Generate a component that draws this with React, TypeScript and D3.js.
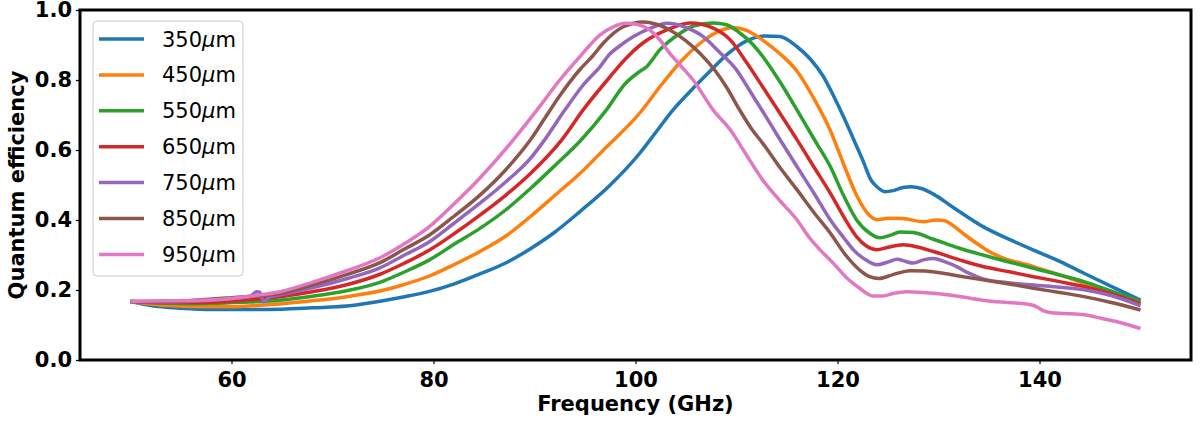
import { useEffect, useRef } from 'react';
import * as d3 from 'd3';

type Pt = [number, number];

// quantum efficiency vs frequency
const qe350: Pt[] = [
  [50, 0.167], [52, 0.156], [55, 0.148], [58, 0.144], [62, 0.144], [65, 0.145], [68, 0.149],
  [71.4, 0.154], [74.7, 0.168], [77, 0.18], [79.6, 0.196], [82, 0.217], [84.6, 0.246],
  [87.2, 0.278], [89.6, 0.318], [92, 0.365], [94.5, 0.424], [97.5, 0.5], [100.4, 0.59],
  [102, 0.65], [103.7, 0.714], [105.5, 0.77], [107, 0.814], [109.4, 0.881], [111, 0.912],
  [112.8, 0.926], [114.3, 0.924], [116, 0.895], [117.3, 0.86], [118.6, 0.81], [119.6, 0.755],
  [120.6, 0.695], [121.6, 0.63], [122.5, 0.571], [123.3, 0.515], [123.9, 0.495], [124.7, 0.481],
  [125.5, 0.484], [126.5, 0.493], [127.3, 0.495], [128.3, 0.49], [129.5, 0.474], [131.5, 0.435],
  [134.4, 0.381], [136.9, 0.346], [139.4, 0.314], [142, 0.282], [144.4, 0.248], [147, 0.212],
  [150, 0.171],
];

const qe450: Pt[] = [
  [50, 0.167], [53, 0.157], [56, 0.153], [59, 0.152], [62, 0.155], [64.8, 0.16], [68, 0.169],
  [71.4, 0.181], [74.7, 0.197], [77, 0.215], [79.6, 0.24], [82, 0.272], [84.6, 0.31],
  [87.2, 0.355], [89.6, 0.41], [92, 0.47], [94.5, 0.533], [97, 0.605], [100.4, 0.705],
  [102.4, 0.78], [104.4, 0.85], [106.4, 0.905], [108.4, 0.941], [109.7, 0.95], [111, 0.942],
  [112.6, 0.914], [114.3, 0.875], [116, 0.825], [117.7, 0.745], [119.3, 0.655], [120.6, 0.56],
  [121.9, 0.47], [123.2, 0.412], [123.9, 0.401], [125, 0.405], [126.5, 0.404], [128.5, 0.395],
  [129.8, 0.4], [130.6, 0.398], [131.5, 0.383], [132.5, 0.36], [133.8, 0.333], [135, 0.31],
  [136.1, 0.295], [139.4, 0.267], [142, 0.243], [144.4, 0.219], [147, 0.195], [150, 0.167],
];

const qe550: Pt[] = [
  [50, 0.167], [53, 0.163], [56, 0.161], [58.2, 0.162], [61, 0.165], [64.8, 0.171], [68, 0.182],
  [71.4, 0.198], [74.7, 0.222], [77, 0.25], [79.6, 0.286], [82, 0.33], [84.6, 0.376],
  [87.2, 0.43], [89.6, 0.49], [92, 0.555], [94.5, 0.625], [97.1, 0.714], [99, 0.79],
  [100.4, 0.824], [101.1, 0.838], [102.4, 0.886], [104.4, 0.933], [105.8, 0.955], [107.7, 0.963],
  [109, 0.958], [110.3, 0.935], [111.5, 0.905], [112.6, 0.867], [114.3, 0.795], [116, 0.714],
  [117.7, 0.63], [119.3, 0.552], [120.6, 0.47], [121.9, 0.4], [123.2, 0.362], [124.2, 0.349],
  [125.2, 0.356], [126.2, 0.366], [127.5, 0.364], [129.5, 0.345], [132, 0.32], [134.4, 0.3],
  [137, 0.28], [139.4, 0.262], [142, 0.243], [144.4, 0.224], [147, 0.198], [150, 0.167],
];

const qe650: Pt[] = [
  [50, 0.167], [53, 0.164], [56, 0.164], [60, 0.168], [64.8, 0.181], [68, 0.195], [71.4, 0.215],
  [74.7, 0.245], [77, 0.275], [79.6, 0.314], [82, 0.36], [84.6, 0.414], [87.2, 0.472],
  [89.6, 0.533], [92.7, 0.629], [94.8, 0.714], [97.5, 0.81], [99, 0.86], [100.7, 0.905],
  [103.1, 0.943], [105.4, 0.963], [107.7, 0.948], [109.4, 0.914], [111, 0.85], [112.6, 0.78],
  [114.3, 0.705], [116, 0.629], [117.7, 0.55], [119.3, 0.476], [120.6, 0.41], [121.9, 0.352],
  [122.9, 0.325], [123.9, 0.315], [125, 0.322], [126.5, 0.329], [128, 0.322], [129.5, 0.31],
  [132, 0.287], [134.4, 0.267], [137, 0.252], [139.4, 0.238], [142, 0.224], [144.4, 0.21],
  [147, 0.19], [150, 0.16],
];

const qe750: Pt[] = [
  [50, 0.167], [53, 0.166], [56, 0.168], [59, 0.173], [61.8, 0.181], [62.5, 0.195], [62.8, 0.193],
  [63.2, 0.166], [63.7, 0.18], [64.8, 0.186], [68, 0.206], [71.4, 0.232], [74.7, 0.263],
  [77, 0.298], [79.6, 0.338], [82, 0.39], [84.6, 0.448], [87.2, 0.51], [89.6, 0.576],
  [91, 0.629], [93, 0.714], [94.8, 0.785], [96.5, 0.838], [97.5, 0.876], [98.1, 0.89],
  [99.8, 0.924], [101.5, 0.948], [103.1, 0.962], [105, 0.95], [106.7, 0.924], [108.3, 0.88],
  [110, 0.829], [111.3, 0.77], [112.6, 0.71], [114.3, 0.63], [116, 0.552], [117.7, 0.475],
  [119.3, 0.4], [120.6, 0.35], [121.6, 0.314], [122.7, 0.288], [123.9, 0.272], [125, 0.28],
  [125.9, 0.288], [126.7, 0.282], [127.5, 0.277], [128.5, 0.286], [129.5, 0.29], [130.6, 0.281],
  [131.8, 0.267], [133, 0.248], [134.4, 0.232], [136.5, 0.222], [139.4, 0.214], [142, 0.208],
  [144.4, 0.201], [147, 0.185], [150, 0.155],
];

const qe850: Pt[] = [
  [50, 0.167], [53, 0.167], [56, 0.17], [60, 0.178], [64.8, 0.19], [68, 0.214], [71.4, 0.244],
  [74.7, 0.278], [77, 0.315], [79.6, 0.357], [82, 0.41], [84.6, 0.471], [87.2, 0.545],
  [89.6, 0.629], [91, 0.69], [92.5, 0.755], [94.5, 0.83], [95.8, 0.87], [96.8, 0.905],
  [98.8, 0.952], [100.8, 0.966], [102, 0.96], [103.4, 0.943], [105, 0.912], [106.4, 0.876],
  [107.8, 0.83], [109, 0.78], [110.3, 0.715], [111.5, 0.66], [112.6, 0.619], [114.3, 0.55],
  [116, 0.486], [117.7, 0.42], [119.3, 0.362], [120.8, 0.3], [122.2, 0.257], [123.2, 0.238],
  [124.1, 0.233], [125.5, 0.244], [127.2, 0.255], [128.7, 0.254], [130.1, 0.249], [132, 0.24],
  [134.4, 0.229], [137, 0.217], [139.4, 0.205], [142, 0.193], [144.4, 0.181], [147, 0.165],
  [150, 0.143],
];

const qe950: Pt[] = [
  [50, 0.167], [53, 0.169], [56, 0.17], [58.2, 0.172], [60, 0.176], [62, 0.183], [64.8, 0.195],
  [68, 0.222], [71.4, 0.255], [74.7, 0.292], [77, 0.33], [79.6, 0.381], [82, 0.445],
  [84.6, 0.52], [87.9, 0.629], [90.5, 0.724], [92.5, 0.8], [94.5, 0.867], [96.5, 0.929],
  [97.8, 0.952], [99.1, 0.962], [100.3, 0.958], [101.4, 0.943], [102.4, 0.915], [103.4, 0.876],
  [104.5, 0.84], [105.7, 0.8], [107.7, 0.714], [109.4, 0.657], [111, 0.585], [112.6, 0.514],
  [114.3, 0.455], [116, 0.4], [117.2, 0.35], [118.3, 0.314], [119.6, 0.276], [121, 0.232],
  [122.2, 0.205], [123.5, 0.183], [124.5, 0.183], [125.5, 0.19], [126.8, 0.195], [128.5, 0.193],
  [131.1, 0.186], [134.4, 0.171], [136.5, 0.165], [138.7, 0.16], [139.5, 0.155], [140.3, 0.142],
  [141, 0.136], [142.5, 0.133], [144.4, 0.129], [146, 0.12], [147.6, 0.11], [150, 0.09],
];

const seriesData = [qe350, qe450, qe550, qe650, qe750, qe850, qe950];
const seriesLabels = ['350', '450', '550', '650', '750', '850', '950'];
const seriesColors = ['#1f77b4', '#ff7f0e', '#2ca02c', '#d62728', '#9467bd', '#8c564b', '#e377c2'];

const xTicks = [60, 80, 100, 120, 140];
const yTicks = [0, 0.2, 0.4, 0.6, 0.8, 1.0];

const W = 1200;
const H = 423;
const FONT = 'DejaVu Sans, sans-serif';

export default function App() {
  const svgRef = useRef<SVGSVGElement>(null);

  useEffect(() => {
    if (!svgRef.current) return;
    const svg = d3.select(svgRef.current);
    svg.selectAll('*').remove();

    const left = 80, right = 1191, top = 10, bottom = 360;

    const x = d3.scaleLinear().domain([45, 155]).range([left, right]);
    const y = d3.scaleLinear().domain([0, 1]).range([bottom, top]);

    svg.append('rect').attr('width', W).attr('height', H).attr('fill', '#fff');

    const line = d3.line<Pt>()
      .x(d => x(d[0]))
      .y(d => y(d[1]))
      .curve(d3.curveMonotoneX);

    seriesData.forEach((s, i) => {
      svg.append('path')
        .datum(s)
        .attr('fill', 'none')
        .attr('stroke', seriesColors[i])
        .attr('stroke-width', 3.5)
        .attr('stroke-linejoin', 'round')
        .attr('d', line);
    });

    // Axes
    const xAxis = svg.append('g')
      .attr('transform', `translate(0,${bottom})`)
      .call(d3.axisBottom(x).tickValues(xTicks).tickSize(4).tickPadding(8).tickFormat(d3.format('d')));
    const yAxis = svg.append('g')
      .attr('transform', `translate(${left},0)`)
      .call(d3.axisLeft(y).tickValues(yTicks).tickSize(4).tickPadding(4).tickFormat(d3.format('.1f')));

    [xAxis, yAxis].forEach(ax => {
      ax.select('.domain').remove();
      ax.selectAll('line').attr('stroke', '#000').attr('stroke-width', 1.2);
      ax.selectAll('text')
        .attr('fill', '#000')
        .style('font-family', FONT)
        .style('font-size', '21px')
        .style('font-weight', 'bold');
    });

    // Frame
    svg.append('rect')
      .attr('x', left)
      .attr('y', top)
      .attr('width', right - left)
      .attr('height', bottom - top)
      .attr('fill', 'none')
      .attr('stroke', '#000')
      .attr('stroke-width', 3);

    // Axis titles
    svg.append('text')
      .attr('x', (left + right) / 2)
      .attr('y', 411)
      .attr('text-anchor', 'middle')
      .style('font-family', FONT)
      .style('font-size', '21px')
      .style('font-weight', 'bold')
      .text('Frequency (GHz)');

    svg.append('text')
      .attr('transform', `translate(24,${(top + bottom) / 2}) rotate(-90)`)
      .attr('text-anchor', 'middle')
      .style('font-family', FONT)
      .style('font-size', '21px')
      .style('font-weight', 'bold')
      .text('Quantum efficiency');

    // Legend
    const lg = svg.append('g');
    lg.append('rect')
      .attr('x', 93)
      .attr('y', 21)
      .attr('width', 150)
      .attr('height', 255)
      .attr('rx', 4)
      .attr('fill', '#fff')
      .attr('fill-opacity', 0.8)
      .attr('stroke', '#cccccc')
      .attr('stroke-width', 1);

    seriesLabels.forEach((lab, i) => {
      const cy = 39 + i * 35.9;
      lg.append('line')
        .attr('x1', 99)
        .attr('x2', 144)
        .attr('y1', cy)
        .attr('y2', cy)
        .attr('stroke', seriesColors[i])
        .attr('stroke-width', 3.5);
      const t = lg.append('text')
        .attr('x', 162)
        .attr('y', cy + 7.5)
        .style('font-family', FONT)
        .style('font-size', '21px')
        .attr('fill', '#000');
      t.append('tspan').text(lab);
      t.append('tspan').style('font-style', 'italic').text('\u03bc');
      t.append('tspan').text('m');
    });
  }, []);

  return (
    <svg
      ref={svgRef}
      width={W}
      height={H}
      style={{ position: 'absolute', left: 0, top: 0, display: 'block' }}
    />
  );
}
